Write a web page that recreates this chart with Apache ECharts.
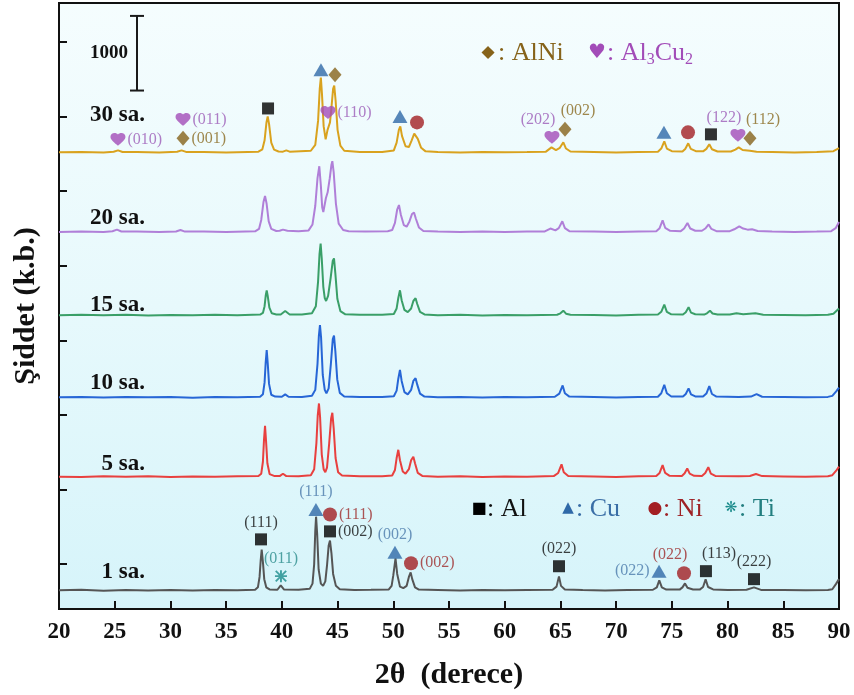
<!DOCTYPE html>
<html><head><meta charset="utf-8">
<script src="https://cdn.jsdelivr.net/npm/echarts@6/dist/echarts.min.js"></script>
<style>html,body{margin:0;padding:0;background:#fff}#c{width:854px;height:695px}</style>
</head><body><div id="c"></div>
<script>
// ---------- DATA ----------
const sampleNames = ['1 sa.', '5 sa.', '10 sa.', '15 sa.', '20 sa.', '30 sa.'];
// vertical stacking offsets (counts) of each pattern
const offsets = [250, 1773, 2836, 3937, 5053, 6120];
// y tick values (counts)
const yTickValues = [600, 1600, 2600, 3600, 4600, 5600, 6600, 7600];
// scale bar: [2theta, from, to]  (1000 counts)
const scaleBar = [27.0, 6947, 7947];
const scaleBarText = '1000';

// [2theta, intensity above baseline]
const pat1 = [
[20,0],[22,8],[24,-4],[26,6],[28,-3],[30,5],[32,-2],[34,6],[36,0],[37.6,8],
[37.85,40],[38.0,180],[38.1,400],[38.19,547],[38.3,380],[38.42,150],[38.6,40],[38.9,12],
[39.6,8],[39.9,65],[40.2,10],
[41.5,8],[42.5,20],[42.75,90],[42.9,350],[43.0,800],[43.07,987],[43.17,750],[43.3,280],[43.5,90],[43.7,60],
[43.9,120],[44.05,330],[44.2,600],[44.32,667],[44.45,500],[44.6,220],[44.85,60],[45.2,15],
[46.5,5],[48,8],[49.6,12],[49.85,60],[50.0,200],[50.2,427],[50.35,220],[50.6,50],[50.9,30],
[51.2,60],[51.4,180],[51.56,240],[51.7,150],[51.95,40],[52.3,10],
[54,5],[56,-3],[58,5],[60,0],[62,6],[64.3,8],[64.65,50],[64.87,187],[65.05,60],[65.4,12],
[67,4],[69,-2],[71,5],[73.3,8],[73.65,40],[73.87,133],[74.1,40],[74.5,10],
[75.7,10],[75.95,40],[76.18,93],[76.4,35],[76.9,12],
[77.5,10],[77.8,45],[78.03,147],[78.25,45],[78.7,12],
[80,6],[81.7,8],[82.37,40],[83,6],[85,4],[87,0],[89,6],[89.4,15],[89.75,90],[90,150]
];
const pat5 = [
[20,0],[22,-5],[24,6],[26,0],[28,5],[30,-3],[32,4],[34,-2],[36,5],[37.9,8],
[38.15,40],[38.3,200],[38.4,500],[38.49,680],[38.58,480],[38.7,180],[38.9,35],[39.3,10],
[39.8,8],[40.1,40],[40.4,8],
[41.5,6],[42.6,20],[42.9,100],[43.1,450],[43.22,820],[43.33,981],[43.43,800],[43.58,300],[43.75,100],[43.9,60],
[44.05,120],[44.25,450],[44.42,780],[44.53,857],[44.65,650],[44.82,250],[45.05,60],[45.4,15],
[47,5],[49,6],[49.9,15],[50.15,90],[50.3,250],[50.45,360],[50.6,220],[50.85,70],[51.1,40],
[51.4,100],[51.6,220],[51.8,267],[51.95,180],[52.2,50],[52.6,10],
[54,0],[56,5],[58,-3],[60,4],[62,0],[64.4,8],[64.8,50],[65.1,165],[65.3,60],[65.7,10],
[68,4],[70,-3],[72,5],[73.6,8],[73.9,50],[74.17,155],[74.4,50],[74.8,12],
[75.9,10],[76.15,45],[76.38,110],[76.6,40],[77.0,12],
[77.7,10],[78.0,50],[78.27,127],[78.5,40],[78.9,10],
[81,5],[82.0,10],[82.55,35],[83.1,8],[85,4],[87,0],[89,6],[89.4,20],[89.75,80],[90,135]
];
const pat10 = [
[20,0],[22,5],[24,-3],[26,6],[28,0],[30,5],[32,-4],[34,4],[36,0],[38.05,8],
[38.3,40],[38.45,200],[38.55,470],[38.64,635],[38.73,460],[38.85,180],[39.05,35],[39.4,10],
[40.0,8],[40.3,40],[40.6,8],
[41.8,5],[42.7,20],[43.0,100],[43.2,450],[43.32,820],[43.42,968],[43.52,800],[43.67,300],[43.85,100],[44.0,55],
[44.2,120],[44.4,450],[44.57,780],[44.68,827],[44.8,620],[44.97,240],[45.2,60],[45.6,12],
[47,4],[49,6],[50.05,15],[50.3,90],[50.45,250],[50.6,368],[50.75,220],[51.0,70],[51.3,40],
[51.6,100],[51.8,220],[52.0,257],[52.15,170],[52.4,50],[52.8,10],
[54,0],[56,5],[58,-3],[60,4],[62,0],[64.5,8],[64.9,50],[65.2,160],[65.4,55],[65.8,10],
[68,4],[70,-3],[72,5],[73.75,8],[74.05,55],[74.32,168],[74.55,55],[74.95,12],
[76.0,10],[76.25,45],[76.5,120],[76.72,40],[77.1,12],
[77.8,10],[78.1,50],[78.36,151],[78.6,45],[79.0,10],
[81,5],[82.1,10],[82.6,44],[83.1,8],[85,4],[87,0],[89,6],[89.4,20],[89.75,80],[90,130]
];
const pat15 = [
[20,0],[22,6],[24,-2],[26,5],[28,-3],[30,4],[32,0],[34,5],[36,-2],[38.05,8],
[38.3,30],[38.45,120],[38.55,260],[38.64,333],[38.74,250],[38.88,100],[39.1,25],[39.5,10],
[39.9,10],[40.3,55],[40.7,10],
[41.8,8],[42.7,25],[43.05,120],[43.25,450],[43.38,820],[43.48,960],[43.58,760],[43.72,380],[43.85,230],[43.97,190],
[44.15,260],[44.38,500],[44.57,730],[44.68,760],[44.8,560],[44.98,220],[45.25,55],[45.7,12],
[47,5],[49,6],[50.05,15],[50.3,90],[50.45,230],[50.6,333],[50.75,200],[51.0,70],[51.3,40],
[51.6,90],[51.8,190],[52.0,227],[52.15,150],[52.4,45],[52.8,10],
[54,0],[56,5],[58,-3],[60,4],[62,0],[64.7,6],[65.0,25],[65.26,60],[65.5,20],[65.9,6],
[68,4],[70,-3],[72,5],[73.75,8],[74.05,45],[74.32,142],[74.55,45],[74.95,12],
[76.0,10],[76.25,40],[76.5,107],[76.72,35],[77.1,12],
[77.9,8],[78.15,25],[78.42,60],[78.65,22],[79.1,8],
[80.2,8],[80.8,25],[81.4,12],[82.5,25],[83.2,6],[85,4],[87,0],[89,5],[89.5,20],[90,90]
];
const pat20 = [
[20,0],[22,5],[24,-3],[24.8,8],[25.2,30],[25.6,5],[27,4],[29,-3],[30.5,6],[30.9,25],[31.3,4],[33,5],[35,-2],[37.6,8],
[37.95,40],[38.15,160],[38.35,400],[38.49,480],[38.63,380],[38.82,140],[39.05,40],[39.5,12],
[39.8,15],[40.1,30],[40.5,15],[41.5,8],
[42.4,20],[42.75,100],[43.0,350],[43.2,720],[43.36,880],[43.5,620],[43.62,330],[43.72,267],
[43.95,450],[44.11,530],[44.3,720],[44.45,900],[44.53,947],[44.65,800],[44.85,380],[45.1,110],[45.5,25],[46,10],
[47.5,5],[49.5,8],[49.9,25],[50.15,120],[50.35,300],[50.51,360],[50.68,230],[50.95,90],[51.2,70],
[51.45,140],[51.68,240],[51.86,260],[52.02,180],[52.3,60],[52.7,12],
[54,4],[56,-3],[58,5],[60,0],[62,4],[63.6,6],[64.1,45],[64.55,20],[64.85,50],[65.17,142],[65.4,50],[65.8,10],
[68,4],[70,-3],[72,5],[73.6,8],[73.9,50],[74.17,155],[74.4,55],[74.85,15],
[75.8,10],[76.1,45],[76.4,120],[76.65,45],[77.1,15],
[77.7,15],[78.0,45],[78.3,100],[78.55,40],[79.0,10],
[80.2,10],[80.6,35],[81.05,75],[81.4,45],[81.8,30],[82.2,35],[82.7,12],[84,5],[86,-3],[88,4],[89.3,10],[89.7,50],[90,133]
];
const pat30 = [
[20,0],[22,5],[24,-3],[24.9,6],[25.3,25],[25.7,4],[27,5],[29,-3],[30.6,6],[31.0,25],[31.4,5],[33,4],[35,-3],[37.9,8],
[38.25,40],[38.45,160],[38.62,400],[38.73,480],[38.85,380],[39.05,130],[39.3,35],[39.7,10],
[40.1,8],[40.4,25],[40.7,8],
[42.6,20],[43.0,100],[43.25,420],[43.4,850],[43.5,1000],[43.6,780],[43.75,350],[43.93,173],
[44.1,300],[44.32,400],[44.45,600],[44.6,850],[44.7,893],[44.82,700],[45.0,300],[45.25,90],[45.6,20],
[47,5],[49,5],[50.05,25],[50.3,130],[50.5,300],[50.63,347],[50.78,220],[51.1,80],[51.4,70],
[51.65,160],[51.88,250],[52.04,267],[52.2,180],[52.5,60],[52.9,12],
[54,4],[56,-3],[58,5],[60,0],[62,4],[63.7,8],[64.2,65],[64.6,30],[64.95,60],[65.26,133],[65.5,50],[65.9,10],
[68,4],[70,-3],[72,5],[73.75,8],[74.05,50],[74.32,147],[74.55,50],[75.0,15],
[75.95,10],[76.2,45],[76.47,120],[76.7,45],[77.15,15],
[77.8,12],[78.1,45],[78.36,107],[78.6,40],[79.1,10],
[80.3,10],[80.7,35],[81.0,65],[81.35,30],[82.0,20],[82.6,8],[84,5],[86,-3],[88,4],[89.5,15],[90,55]
];
const patterns = [pat1, pat5, pat10, pat15, pat20, pat30];

// phase annotations: [2theta, counts, phase, hkl, label placement]
const ann30 = [
[25.29,6293,'Al3Cu2','(010)','r'],
[31.13,6560,'Al3Cu2','(011)','r'],
[31.13,6307,'AlNi','(001)','r'],
[38.76,6707,'Al','',''],
[43.51,7227,'Cu','',''],
[44.77,7160,'AlNi','',''],
[44.14,6653,'Al3Cu2','(110)','r'],
[50.6,6600,'Cu','',''],
[52.13,6520,'Ni','',''],
[64.24,6320,'Al3Cu2','(202)','tl'],
[65.41,6427,'AlNi','(002)','tr'],
[74.29,6387,'Cu','',''],
[76.45,6387,'Ni','',''],
[78.51,6360,'Al','',''],
[80.93,6347,'Al3Cu2','(122)','tl'],
[82.01,6307,'AlNi','(112)','tr']
];
const ann1 = [
[38.13,933,'Al','(111)','t'],
[39.92,440,'Ti','(011)','t'],
[43.06,1333,'Cu','(111)','t'],
[44.32,1267,'Ni','(111)','r'],
[44.32,1040,'Al','(002)','r'],
[50.15,760,'Cu','(002)','t'],
[51.59,613,'Ni','(002)','r'],
[64.87,573,'Al','(022)','t'],
[73.85,507,'Cu','(022)','l'],
[76.09,480,'Ni','(022)','tl'],
[78.06,507,'Al','(113)','tr'],
[82.37,400,'Al','(222)','t']
];

// ---------- STYLE ----------
const SERIF = "'Liberation Serif','Times New Roman',serif";
const SYMF = "'DejaVu Sans',sans-serif";
const lineColors = ['#555555', '#e8403f', '#2766d6', '#3a9f68', '#b07fd8', '#d9a21e'];
const HEART = 'path://M12,21.35L10.55,20.03C5.4,15.36,2,12.28,2,8.5C2,5.42,4.42,3,7.5,3C9.24,3,10.91,3.81,12,5.09C13.09,3.81,14.76,3,16.5,3C19.58,3,22,5.42,22,8.5C22,12.28,18.6,15.36,13.45,20.04L12,21.35Z';
const STAR = 'path://M4.2,0L5.8,0L5.8,10L4.2,10ZM0,4.2L10,4.2L10,5.8L0,5.8ZM1.2,0.1L9.9,8.8L8.8,9.9L0.1,1.2ZM8.8,0.1L9.9,1.2L1.2,9.9L0.1,8.8Z';
const phaseSym = {Al:'rect', Cu:'triangle', Ni:'circle', Ti:STAR, AlNi:'diamond', Al3Cu2:HEART};
const phaseSize = {Al:12, Cu:[15,13], Ni:14, Ti:12, AlNi:[13,15], Al3Cu2:[15,14]};
const phaseColor = {Al:'#000000', Cu:'#2f69a8', Ni:'#a31f23', Ti:'#1b8c8c', AlNi:'#86631a', Al3Cu2:'#a24cb8'};
const labelColor = {Al:'#111111', Cu:'#4b7bab', Ni:'#9e2a2a', Ti:'#2a8c8c', AlNi:'#8a6a20', Al3Cu2:'#9c5cb8'};
const place = {
  r: {position:'right', distance:2},
  l: {position:'left', distance:2},
  t: {position:'top', distance:3},
  tl: {position:'top', distance:3, offset:[-14,0]},
  tr: {position:'top', distance:3, offset:[13,0]}
};
const sampleLabelY = [572, 464, 383, 305, 218, 115];

// ---------- BUILD ----------
const chart = echarts.init(document.getElementById('c'), null, {renderer:'canvas'});
const series = [];
patterns.forEach((p, i) => {
  series.push({
    type:'line', name:sampleNames[i], data:p.map(d => [d[0], d[1] + offsets[i]]),
    showSymbol:false, symbol:'none', silent:true, z:2,
    lineStyle:{color:lineColors[i], width:2}
  });
});
const annItems = ann30.concat(ann1).map(a => ({
  value:[a[0], a[1]],
  symbol:phaseSym[a[2]], symbolSize:phaseSize[a[2]], symbolKeepAspect:true,
  itemStyle:{color:phaseColor[a[2]]},
  label: a[3] ? Object.assign({show:true, formatter:a[3], color:labelColor[a[2]],
    fontFamily:SERIF, fontSize:16}, place[a[4]]) : {show:false}
}));
series.push({type:'scatter', data:annItems, z:5, silent:true});
series.push({
  type:'line', data:[[scaleBar[0], scaleBar[1]], [scaleBar[0], scaleBar[2]]],
  symbol:'rect', symbolSize:[14,2], showSymbol:true, silent:true, z:4,
  lineStyle:{color:'#1a1a1a', width:2}, itemStyle:{color:'#1a1a1a'}
});

const graphics = [];
sampleNames.forEach((n, i) => {
  graphics.push({type:'text', x:145, y:sampleLabelY[i], z:10,
    style:{text:n, font:'bold 23px ' + SERIF, fill:'#111', align:'right', verticalAlign:'middle',
      textAlign:'right', textVerticalAlign:'middle'}});
});
graphics.push({type:'text', x:128, y:53, z:10,
  style:{text:scaleBarText, font:'bold 19px ' + SERIF, fill:'#111', align:'right', verticalAlign:'middle',
    textAlign:'right', textVerticalAlign:'middle'}});
function gtext(x, y, text, font, fill, align) {
  graphics.push({type:'text', x:x, y:y, z:10,
    style:{text:text, font:font, fill:fill, align:align || 'left', verticalAlign:'middle',
      textAlign:align || 'left', textVerticalAlign:'middle'}});
}
// top legend
gtext(488, 53, '\u25C6', '17px ' + SYMF, phaseColor.AlNi, 'center');
gtext(498, 53, ': AlNi', '26px ' + SERIF, phaseColor.AlNi);
gtext(597, 53, '\u2665', '20px ' + SYMF, phaseColor.Al3Cu2, 'center');
graphics.push({type:'text', x:607, y:53, z:10,
  style:{text:'{m|: Al}{s|3}{m|Cu}{s|2}', fill:phaseColor.Al3Cu2, align:'left', verticalAlign:'middle',
    textAlign:'left', textVerticalAlign:'middle',
    rich:{m:{fontSize:26, fontFamily:SERIF, fill:phaseColor.Al3Cu2, lineHeight:30},
          s:{fontSize:16, fontFamily:SERIF, fill:phaseColor.Al3Cu2, verticalAlign:'bottom', lineHeight:30, padding:[14,0,0,0]}}}});
// bottom legend
gtext(479, 509, '\u25A0', '16px ' + SYMF, '#000', 'center');
gtext(487, 509, ': Al', '26px ' + SERIF, '#111');
gtext(568, 508, '\u25B2', '15px ' + SYMF, phaseColor.Cu, 'center');
gtext(576, 509, ': Cu', '26px ' + SERIF, '#3a6ea6');
gtext(655, 509, '\u25CF', '17px ' + SYMF, phaseColor.Ni, 'center');
gtext(663, 509, ': Ni', '26px ' + SERIF, '#9e2226');
gtext(731, 508, '\u274B', '15px ' + SYMF, phaseColor.Ti, 'center');
gtext(739, 509, ': Ti', '26px ' + SERIF, '#237f80');

chart.setOption({
  animation:false,
  backgroundColor:'#ffffff',
  grid:{left:59, right:15, top:3, bottom:83, show:true, borderColor:'#111', borderWidth:2,
    backgroundColor:{type:'linear', x:0, y:0, x2:0, y2:1,
      colorStops:[{offset:0, color:'#f5fdfe'}, {offset:0.5, color:'#e7f9fc'}, {offset:1, color:'#d6f4fa'}]}},
  xAxis:{type:'value', min:20, max:90, interval:5,
    name:'2\u03B8  (derece)', nameLocation:'middle', nameGap:51,
    nameTextStyle:{fontFamily:SERIF, fontWeight:'bold', fontSize:30, color:'#111'},
    axisLine:{lineStyle:{color:'#111', width:2}},
    axisTick:{inside:true, length:8, lineStyle:{color:'#111', width:2}},
    axisLabel:{fontFamily:SERIF, fontWeight:'bold', fontSize:23, color:'#111', margin:12},
    splitLine:{show:false}},
  yAxis:{type:'value', min:0, max:8120,
    name:'\u015Eiddet (k.b.)', nameLocation:'middle', nameGap:18, nameRotate:90,
    nameTextStyle:{fontFamily:SERIF, fontWeight:'bold', fontSize:30, color:'#111'},
    axisLine:{show:true, lineStyle:{color:'#111', width:2}},
    axisTick:{show:true, inside:true, length:8, customValues:yTickValues, lineStyle:{color:'#111', width:2}},
    axisLabel:{show:false},
    splitLine:{show:false}},
  series:series,
  graphic:graphics
});
</script></body></html>
